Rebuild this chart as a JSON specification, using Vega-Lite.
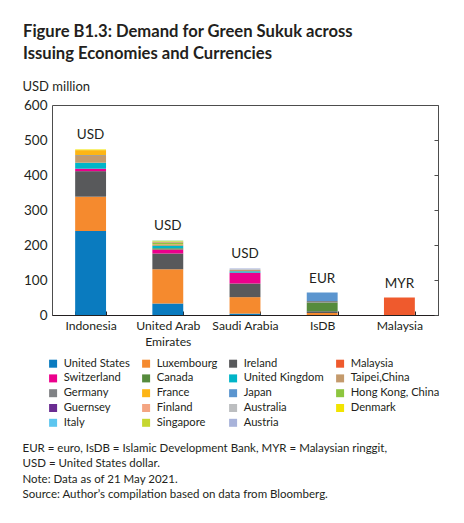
{
  "$schema": "https://vega.github.io/schema/vega-lite/v6.json",
  "width": 386,
  "height": 210,
  "autosize": {"type": "none"},
  "padding": {"left": 52, "top": 105, "right": 26, "bottom": 208},
  "background": "white",
  "view": {"stroke": "#4d4d4d", "strokeWidth": 1},
  "config": {
    "view": {"stroke": "#4d4d4d", "strokeWidth": 1},
    "font": "Lato"
  },
  "title": {
    "text": ["Figure B1.3: Demand for Green Sukuk across", "Issuing Economies and Currencies"],
    "anchor": "start",
    "frame": "group",
    "dx": -29,
    "offset": 17,
    "font": "Lato",
    "fontSize": 16.6,
    "fontWeight": "bold",
    "color": "#231f20",
    "lineHeight": 22
  },
  "data": {
    "values": [
      {"economy": "Indonesia", "currency": "USD", "country": "United States", "value": 240},
      {"economy": "Indonesia", "currency": "USD", "country": "Luxembourg", "value": 98},
      {"economy": "Indonesia", "currency": "USD", "country": "Ireland", "value": 73},
      {"economy": "Indonesia", "currency": "USD", "country": "Switzerland", "value": 7},
      {"economy": "Indonesia", "currency": "USD", "country": "United Kingdom", "value": 17},
      {"economy": "Indonesia", "currency": "USD", "country": "Taipei,China", "value": 20},
      {"economy": "Indonesia", "currency": "USD", "country": "Germany", "value": 2},
      {"economy": "Indonesia", "currency": "USD", "country": "France", "value": 14},
      {"economy": "Indonesia", "currency": "USD", "country": "Denmark", "value": 2},
      {"economy": "United Arab Emirates", "currency": "USD", "country": "United States", "value": 33},
      {"economy": "United Arab Emirates", "currency": "USD", "country": "Luxembourg", "value": 98},
      {"economy": "United Arab Emirates", "currency": "USD", "country": "Ireland", "value": 45},
      {"economy": "United Arab Emirates", "currency": "USD", "country": "Switzerland", "value": 11},
      {"economy": "United Arab Emirates", "currency": "USD", "country": "Canada", "value": 4},
      {"economy": "United Arab Emirates", "currency": "USD", "country": "United Kingdom", "value": 6},
      {"economy": "United Arab Emirates", "currency": "USD", "country": "Germany", "value": 2},
      {"economy": "United Arab Emirates", "currency": "USD", "country": "France", "value": 3},
      {"economy": "United Arab Emirates", "currency": "USD", "country": "Japan", "value": 1},
      {"economy": "United Arab Emirates", "currency": "USD", "country": "Hong Kong, China", "value": 3},
      {"economy": "United Arab Emirates", "currency": "USD", "country": "Guernsey", "value": 1},
      {"economy": "United Arab Emirates", "currency": "USD", "country": "Finland", "value": 1},
      {"economy": "United Arab Emirates", "currency": "USD", "country": "Denmark", "value": 3},
      {"economy": "United Arab Emirates", "currency": "USD", "country": "Italy", "value": 1},
      {"economy": "United Arab Emirates", "currency": "USD", "country": "Singapore", "value": 1},
      {"economy": "Saudi Arabia", "currency": "USD", "country": "United States", "value": 4},
      {"economy": "Saudi Arabia", "currency": "USD", "country": "Luxembourg", "value": 47},
      {"economy": "Saudi Arabia", "currency": "USD", "country": "Ireland", "value": 39},
      {"economy": "Saudi Arabia", "currency": "USD", "country": "Switzerland", "value": 31},
      {"economy": "Saudi Arabia", "currency": "USD", "country": "United Kingdom", "value": 4},
      {"economy": "Saudi Arabia", "currency": "USD", "country": "Taipei,China", "value": 4},
      {"economy": "Saudi Arabia", "currency": "USD", "country": "Australia", "value": 2},
      {"economy": "Saudi Arabia", "currency": "USD", "country": "Austria", "value": 2},
      {"economy": "IsDB", "currency": "EUR", "country": "Luxembourg", "value": 6},
      {"economy": "IsDB", "currency": "EUR", "country": "Ireland", "value": 5},
      {"economy": "IsDB", "currency": "EUR", "country": "Canada", "value": 25},
      {"economy": "IsDB", "currency": "EUR", "country": "Germany", "value": 4},
      {"economy": "IsDB", "currency": "EUR", "country": "Japan", "value": 24},
      {"economy": "Malaysia", "currency": "MYR", "country": "Malaysia", "value": 50}
    ]
  },
  "resolve": {"axis": {"y": "independent"}},
  "layer": [
    {
      "transform": [{"window": [{"op": "row_number", "as": "row"}]}],
      "mark": {"type": "bar"},
      "encoding": {
        "x": {
          "field": "economy",
          "type": "nominal",
          "sort": ["Indonesia", "United Arab Emirates", "Saudi Arabia", "IsDB", "Malaysia"],
          "scale": {"paddingInner": 0.6, "paddingOuter": 0.3},
          "axis": {
            "title": ["EUR = euro, IsDB = Islamic Development Bank, MYR = Malaysian ringgit,", "USD = United States dollar.", "Note: Data as of 21 May 2021.", "Source: Author’s compilation based on data from Bloomberg."],
            "titleX": -30,
            "titleY": 127,
            "titleAlign": "left",
            "titleBaseline": "top",
            "titleFont": "Lato",
            "titleFontSize": 11.5,
            "titleFontWeight": "normal",
            "titleLineHeight": 15.5,
            "titleColor": "#231f20",
            "labelAngle": 0,
            "labelFont": "Lato",
            "labelFontSize": 12.2,
            "labelColor": "#231f20",
            "labelPadding": 8,
            "labelLineHeight": 16,
            "labelBaseline": "top",
            "labelExpr": "datum.label == 'United Arab Emirates' ? ['United Arab', 'Emirates'] : datum.label",
            "tickBand": "extent",
            "tickSize": -4,
            "tickColor": "#231f20",
            "domainColor": "#231f20",
            "domainWidth": 1.2
          }
        },
        "y": {
          "field": "value",
          "type": "quantitative",
          "stack": "zero",
          "scale": {"domain": [0, 600]},
          "axis": {
            "title": "USD million",
            "titleX": -30,
            "titleY": -19,
            "titleAngle": 0,
            "titleAlign": "left",
            "titleBaseline": "middle",
            "titleFont": "Lato",
            "titleFontSize": 13,
            "titleFontWeight": "normal",
            "titleColor": "#231f20",
            "tickCount": 6,
            "labelFont": "Lato",
            "labelFontSize": 13.5,
            "labelColor": "#231f20",
            "labelPadding": 5,
            "ticks": false,
            "domain": false,
            "grid": false
          }
        },
        "color": {
          "field": "country",
          "type": "nominal",
          "sort": ["United States", "Luxembourg", "Ireland", "Malaysia", "Switzerland", "Canada", "United Kingdom", "Taipei,China", "Germany", "France", "Japan", "Hong Kong, China", "Guernsey", "Finland", "Australia", "Denmark", "Italy", "Singapore", "Austria"],
          "scale": {
            "domain": ["United States", "Luxembourg", "Ireland", "Malaysia", "Switzerland", "Canada", "United Kingdom", "Taipei,China", "Germany", "France", "Japan", "Hong Kong, China", "Guernsey", "Finland", "Australia", "Denmark", "Italy", "Singapore", "Austria"],
            "range": ["#0a7bbf", "#f58a2e", "#58595b", "#ef5a2d", "#ec008c", "#568b3c", "#00b5c8", "#c49a6c", "#808285", "#fdb515", "#5b95cf", "#8dc63f", "#6a2c91", "#f4a582", "#bcbec0", "#f2e400", "#5dc6ef", "#c6d730", "#a8b3da"]
          },
          "legend": {
            "orient": "none",
            "direction": "horizontal",
            "legendX": -4.5,
            "legendY": 253,
            "columns": 4,
            "title": null,
            "symbolType": "square",
            "symbolSize": 64,
            "symbolStrokeWidth": 0,
            "labelFont": "Lato",
            "labelFontSize": 11.2,
            "labelColor": "#231f20",
            "labelOffset": 5,
            "labelLimit": 200,
            "columnPadding": 10,
            "rowPadding": 2.8,
            "padding": 0
          }
        },
        "order": {"field": "row", "type": "quantitative", "sort": "ascending"}
      }
    },
    {
      "transform": [
        {"aggregate": [{"op": "sum", "field": "value", "as": "total"}], "groupby": ["economy", "currency"]}
      ],
      "mark": {"type": "text", "dy": -14, "baseline": "middle", "align": "center", "font": "Lato", "fontSize": 13.5, "color": "#231f20"},
      "encoding": {
        "x": {"field": "economy", "type": "nominal", "sort": ["Indonesia", "United Arab Emirates", "Saudi Arabia", "IsDB", "Malaysia"]},
        "y": {
          "field": "total",
          "type": "quantitative",
          "scale": {"domain": [0, 600]},
          "axis": {"orient": "right", "labels": false, "title": null, "domain": false, "ticks": true, "tickSize": -4, "tickColor": "#4d4d4d", "tickCount": 6, "grid": false}
        },
        "text": {"field": "currency"}
      }
    }
  ]
}
